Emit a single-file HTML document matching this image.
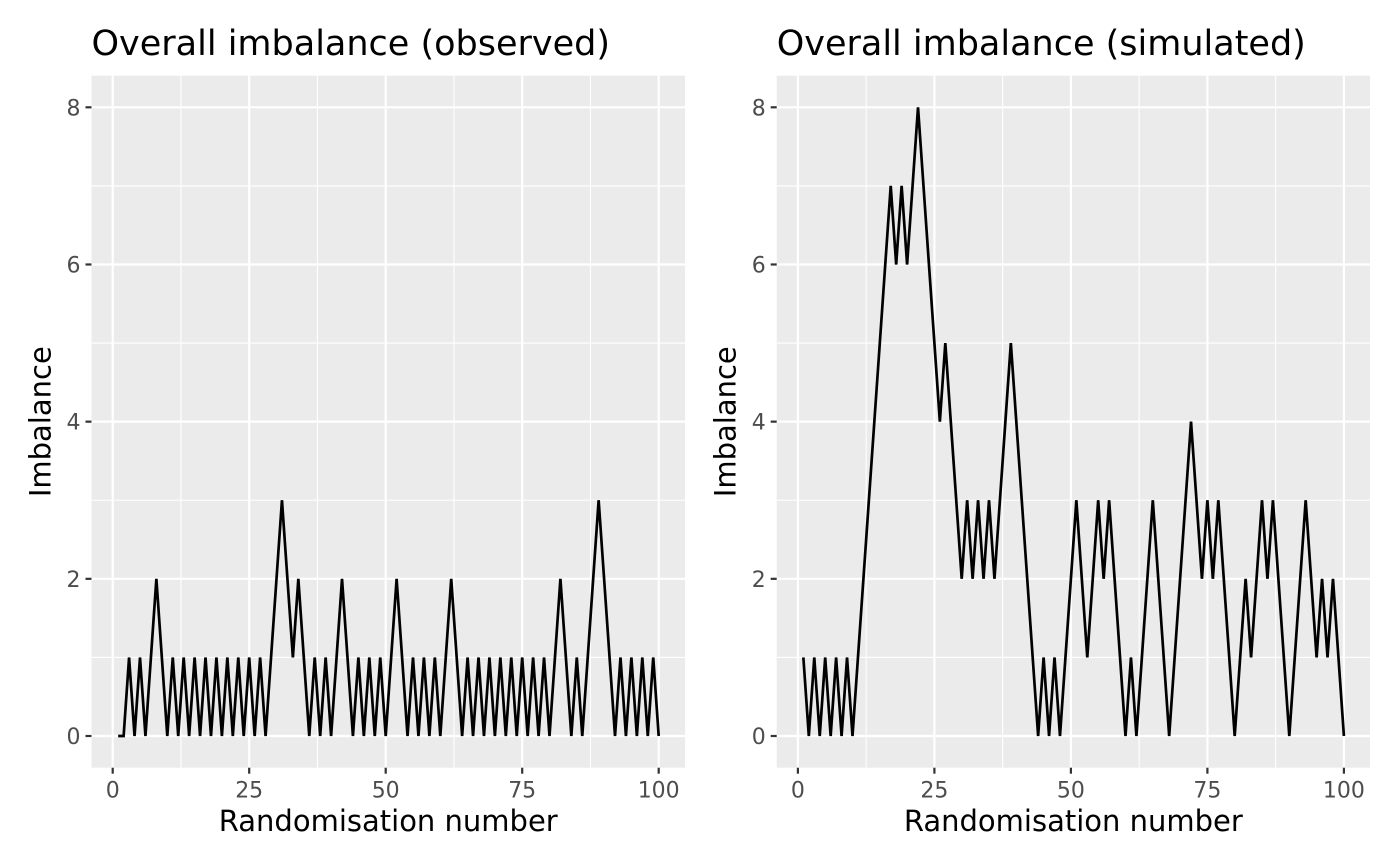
<!DOCTYPE html>
<html><head><meta charset="utf-8"><style>
html,body{margin:0;padding:0;background:#fff}
svg{display:block;font-family:"DejaVu Sans","Liberation Sans",sans-serif}
</style></head><body>
<svg id="chart" width="1400" height="866" viewBox="0 0 1400 866" xmlns="http://www.w3.org/2000/svg"></svg>
<script>
const xValues = Array.from({length:100},(_,i)=>i+1);
const observedImbalance = [0,0,1,0,1,0,1,2,1,0, 1,0,1,0,1,0,1,0,1,0, 1,0,1,0,1,0,1,0,1,2, 3,2,1,2,1,0,1,0,1,0, 1,2,1,0,1,0,1,0,1,0, 1,2,1,0,1,0,1,0,1,0, 1,2,1,0,1,0,1,0,1,0, 1,0,1,0,1,0,1,0,1,0, 1,2,1,0,1,0,1,2,3,2, 1,0,1,0,1,0,1,0,1,0];
const simulatedImbalance = [1,0,1,0,1,0,1,0,1,0, 1,2,3,4,5,6,7,6,7,6, 7,8,7,6,5,4,5,4,3,2, 3,2,3,2,3,2,3,4,5,4, 3,2,1,0,1,0,1,0,1,2, 3,2,1,2,3,2,3,2,1,0, 1,0,1,2,3,2,1,0,1,2, 3,4,3,2,3,2,3,2,1,0, 1,2,1,2,3,2,3,2,1,0, 1,2,3,2,1,2,1,2,1,0];
const xTicks = [0,25,50,75,100];
const yTicks = [0,2,4,6,8];
const panelTitles = ["Overall imbalance (observed)","Overall imbalance (simulated)"];

const NS="http://www.w3.org/2000/svg";
const svgRoot=document.getElementById('chart');
function mk(tag,attrs,parent){const e=document.createElementNS(NS,tag);for(const k in attrs)e.setAttribute(k,attrs[k]);(parent||svgRoot).appendChild(e);return e;}

const panels=[{left:91.5,right:685,series:observedImbalance,key:'observed'},{left:776.7,right:1370,series:simulatedImbalance,key:'simulated'}];
const plotTop=75.7,plotBottom=767.7;
panels.forEach((p,pi)=>{
  const x0px=p.left+21.2, x100px=x0px+546;
  const sx=v=>x0px+(v/100)*(x100px-x0px);
  const sy=v=>736-(v/8)*(736-107.3);
  const g=mk('g',{});
  
  
  const bg=mk('rect',{x:p.left,y:plotTop,width:p.right-p.left,height:plotBottom-plotTop,fill:'#ebebeb'},g);
  
  
  for(let i=0;i<xTicks.length-1;i++){const v=(xTicks[i]+xTicks[i+1])/2;mk('line',{x1:sx(v),x2:sx(v),y1:plotTop,y2:plotBottom,stroke:'#fff','stroke-width':1.1},g);}
  for(let i=0;i<yTicks.length-1;i++){const v=(yTicks[i]+yTicks[i+1])/2;mk('line',{x1:p.left,x2:p.right,y1:sy(v),y2:sy(v),stroke:'#fff','stroke-width':1.1},g);}
  xTicks.forEach(v=>{
    mk('line',{x1:sx(v),x2:sx(v),y1:plotTop,y2:plotBottom,stroke:'#fff','stroke-width':2.2},g);
    mk('line',{x1:sx(v),x2:sx(v),y1:plotBottom,y2:plotBottom+6,stroke:'#333','stroke-width':2.2},g);
    const t=mk('text',{x:sx(v),y:plotBottom+30,'text-anchor':'middle','font-size':22,fill:'#4d4d4d'},g);t.textContent=v;
    
    
  });
  yTicks.forEach(v=>{
    mk('line',{x1:p.left,x2:p.right,y1:sy(v),y2:sy(v),stroke:'#fff','stroke-width':2.2},g);
    mk('line',{x1:p.left-6,x2:p.left,y1:sy(v),y2:sy(v),stroke:'#333','stroke-width':2.2},g);
    const t=mk('text',{x:p.left-11,y:sy(v)+8,'text-anchor':'end','font-size':22,fill:'#4d4d4d'},g);t.textContent=v;
    
    
  });
  const pts=p.series.map((v,i)=>sx(xValues[i]).toFixed(2)+','+sy(v).toFixed(2)).join(' ');
  const line=mk('polyline',{points:pts,fill:'none',stroke:'#000','stroke-width':2.7,'stroke-linejoin':'miter','stroke-miterlimit':10},g);
  
  
  const title=mk('text',{x:p.left,y:55,'font-size':35,fill:'#000'},g);title.textContent=panelTitles[pi];
  
  
  const xt=mk('text',{x:(p.left+p.right)/2,y:831,'text-anchor':'middle','font-size':29,fill:'#000'},g);xt.textContent='Randomisation number';
  
  
  const yx=p.left-41, yy=(plotTop+plotBottom)/2;
  const yt=mk('text',{x:yx,y:yy,'text-anchor':'middle','font-size':29,fill:'#000',transform:`rotate(-90 ${yx} ${yy})`},g);yt.textContent='Imbalance';
  
  
});
</script>
</body></html>
